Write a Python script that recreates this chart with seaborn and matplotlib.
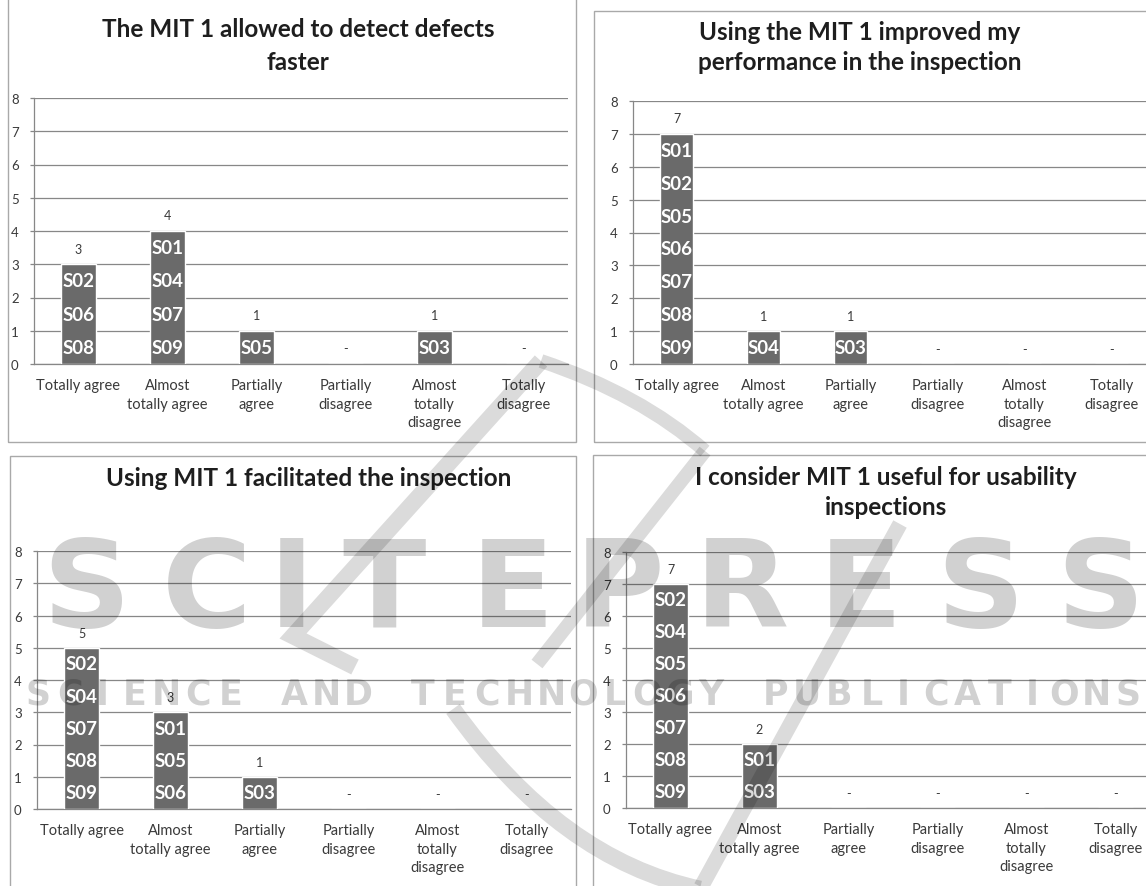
import matplotlib
matplotlib.use("Agg")
import matplotlib.pyplot as plt
import seaborn as sns
import pandas as pd
import numpy as np
from matplotlib.patches import Rectangle, PathPatch
from matplotlib.path import Path

# ---------------------------------------------------------------- data
categories = ["Totally agree", "Almost\ntotally agree", "Partially\nagree",
              "Partially\ndisagree", "Almost\ntotally\ndisagree", "Totally\ndisagree"]

title_faster = "The MIT 1 allowed to detect defects\nfaster"
title_performance = "Using the MIT 1 improved my\nperformance in the inspection"
title_facilitated = "Using MIT 1 facilitated the inspection"
title_useful = "I consider MIT 1 useful for usability\ninspections"

counts_faster = [3, 4, 1, 0, 1, 0]
counts_performance = [7, 1, 1, 0, 0, 0]
counts_facilitated = [5, 3, 1, 0, 0, 0]
counts_useful = [7, 2, 0, 0, 0, 0]

subjects_faster = [["S02", "S06", "S08"], ["S01", "S04", "S07", "S09"],
                   ["S05"], [], ["S03"], []]
subjects_performance = [["S01", "S02", "S05", "S06", "S07", "S08", "S09"],
                        ["S04"], ["S03"], [], [], []]
subjects_facilitated = [["S02", "S04", "S07", "S08", "S09"],
                        ["S01", "S05", "S06"], ["S03"], [], [], []]
subjects_useful = [["S02", "S04", "S05", "S06", "S07", "S08", "S09"],
                   ["S01", "S03"], [], [], [], []]

watermark_big = "SCITEPRESS"
watermark_small = "SCIENCE AND TECHNOLOGY PUBLICATIONS"

# ---------------------------------------------------------------- style
W, H = 1146, 887
FONT = "Lato"
BAR = "#6a6a6a"
GRID = "#878787"
AXIS = "#878787"
BORDER = "#a9a9a9"
TEXT = "#3a3a3a"

sns.set_theme(style="white")
plt.rcParams["font.family"] = [FONT, "DejaVu Sans"]

fig = plt.figure(figsize=(W / 100, H / 100), dpi=100)
fig.patch.set_facecolor("white")


def to_fig(x, y):
    return x / W, 1 - y / H


def px_axes(left, top, right, bottom):
    return fig.add_axes([left / W, 1 - bottom / H, (right - left) / W, (bottom - top) / H])


def panel(box, plot, title_xy, title, title_spacing, counts, subjects):
    # panel frame
    bl, bt, br, bb = box
    fig.patches.append(Rectangle((bl / W, 1 - bb / H), (br - bl) / W, (bb - bt) / H,
                                 transform=fig.transFigure, fill=False,
                                 edgecolor=BORDER, lw=1.0, zorder=0))
    tx, ty = to_fig(*title_xy)
    fig.text(tx, ty, title, ha="center", va="top", fontsize=17.5,
             fontweight="bold", color="#1e1e1e", linespacing=title_spacing)

    ax = px_axes(*plot)
    df = pd.DataFrame({"response": categories, "count": counts})
    sns.barplot(data=df, x="response", y="count", color=BAR, saturation=1,
                width=0.39, ax=ax, zorder=3)
    ax.set_xlim(-0.5, 5.5)
    ax.set_ylim(0, 8)
    ax.set_yticks(range(9))
    ax.set_xlabel("")
    ax.set_ylabel("")
    ax.set_facecolor("none")
    ax.yaxis.grid(True, color=GRID, lw=0.9)
    ax.xaxis.grid(False)
    ax.set_axisbelow(True)
    for s in ("top", "right"):
        ax.spines[s].set_visible(False)
    for s in ("left", "bottom"):
        ax.spines[s].set_color(AXIS)
        ax.spines[s].set_linewidth(0.9)

    ax.set_xticks(range(len(categories)))
    ax.set_xticklabels(categories, fontsize=10.5, color=TEXT, linespacing=1.42, va="top")
    ax.set_xticks(np.arange(-0.5, len(categories), 1.0), minor=True)
    ax.tick_params(axis="x", which="major", length=0, pad=10)
    ax.tick_params(axis="x", which="minor", length=5, width=0.9, color=AXIS, direction="out")
    ax.tick_params(axis="y", which="major", length=3, width=0.9, color=AXIS,
                   direction="out", pad=8, labelsize=9.5, labelcolor=TEXT, left=True)

    for i, (n, names) in enumerate(zip(counts, subjects)):
        ax.text(i, n + 0.47, str(n) if n else "-", ha="center", va="center",
                fontsize=9, color=TEXT, zorder=5)
        for k, name in enumerate(names):
            ax.text(i, n - k - 0.5, name, ha="center", va="center", fontsize=13.5,
                    fontweight="bold", color="white", zorder=5)
    return ax


panel((8, -5, 576, 443), (34, 99, 568, 365), (298, 18), title_faster, 1.5,
      counts_faster, subjects_faster)
panel((594, 12, 1160, 443), (633, 102, 1155, 365), (860, 21), title_performance, 1.38,
      counts_performance, subjects_performance)
panel((10, 457, 576, 900), (37, 552, 571, 810), (309, 467), title_facilitated, 1.38,
      counts_facilitated, subjects_facilitated)
panel((593, 456, 1160, 900), (626, 553, 1160, 809), (886, 466), title_useful, 1.38,
      counts_useful, subjects_useful)

# ---------------------------------------------------------------- publisher watermark
ov = fig.add_axes([0, 0, 1, 1], zorder=20)
ov.set_xlim(0, W)
ov.set_ylim(H, 0)
ov.axis("off")
ov.patch.set_alpha(0)
WM = (0, 0, 0, 0.18)

big_centers = [86, 207, 291, 384, 512, 620, 742, 860, 980, 1100]
for ch, cx in zip(watermark_big, big_centers):
    ov.text(cx, 627, ch, ha="center", va="baseline", fontsize=88,
            fontweight="heavy", family="DejaVu Sans", color=WM)

x0, x1 = 22, 1144
pitch = (x1 - x0) / len(watermark_small)
for j, ch in enumerate(watermark_small):
    if ch != " ":
        ov.text(x0 + pitch * (j + 0.5), 705, ch, ha="center", va="baseline",
                fontsize=25, fontweight="bold", family="DejaVu Sans", color=WM)

WS = (0, 0, 0, 0.14)
swooshes = [
    ([(355, 668), (293, 637), (541, 362)], [Path.MOVETO, Path.LINETO, Path.LINETO], 12),
    ([(541, 362), (640, 395), (705, 452)], [Path.MOVETO, Path.CURVE3, Path.CURVE3], 10),
    ([(705, 452), (537, 665)], [Path.MOVETO, Path.LINETO], 10),
    ([(453, 710), (560, 860), (700, 890)], [Path.MOVETO, Path.CURVE3, Path.CURVE3], 12),
    ([(700, 890), (900, 525)], [Path.MOVETO, Path.LINETO], 11),
]
for verts, codes, lw in swooshes:
    ov.add_patch(PathPatch(Path(verts, codes), fill=False, edgecolor=WS, lw=lw,
                           capstyle="butt", joinstyle="miter"))

fig.savefig("out.png", dpi=100, facecolor="white")
